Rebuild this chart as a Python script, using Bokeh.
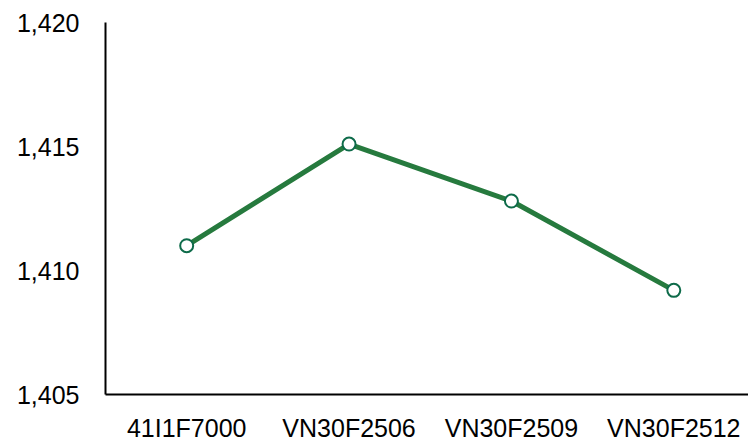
from bokeh.plotting import figure
from bokeh.models import Range1d, FixedTicker, ColumnDataSource, NumeralTickFormatter
from bokeh.embed import file_html
from bokeh.resources import INLINE

categories = ["41I1F7000", "VN30F2506", "VN30F2509", "VN30F2512"]
prices = [1411.0, 1415.1, 1412.8, 1409.2]
y_ticks = [1405, 1410, 1415, 1420]

xs = list(range(len(categories)))
src = ColumnDataSource(dict(x=xs, y=prices, cat=categories))

p = figure(width=748, height=444, output_backend="svg", toolbar_location=None,
           x_range=Range1d(-0.5, 3.46), y_range=Range1d(1405, 1420),
           min_border_left=105, min_border_right=0, min_border_top=22, min_border_bottom=48)
p.outline_line_color = None
p.xgrid.visible = False
p.ygrid.visible = False
p.background_fill_color = "white"
p.border_fill_color = "white"

p.line("x", "y", source=src, line_color="#267A3E", line_width=5)
p.scatter("x", "y", source=src, size=13, fill_color="white", line_color="#0E6B4A", line_width=2)

p.xaxis.ticker = FixedTicker(ticks=xs)
p.xaxis.major_label_overrides = {i: c for i, c in enumerate(categories)}
p.yaxis.ticker = FixedTicker(ticks=y_ticks)
p.yaxis.formatter = NumeralTickFormatter(format="0,0")

for ax in (p.xaxis[0], p.yaxis[0]):
    ax.axis_line_color = "black"
    ax.axis_line_width = 2
    ax.major_tick_line_color = None
    ax.minor_tick_line_color = None
    ax.major_label_text_font = "Liberation Sans"
    ax.major_label_text_color = "black"

p.xaxis.major_label_text_font_size = "25px"
p.xaxis.major_label_standoff = 13
p.yaxis.major_label_text_font_size = "25px"
p.yaxis.major_label_standoff = 20

open("out.html", "w").write(file_html(p, INLINE))
